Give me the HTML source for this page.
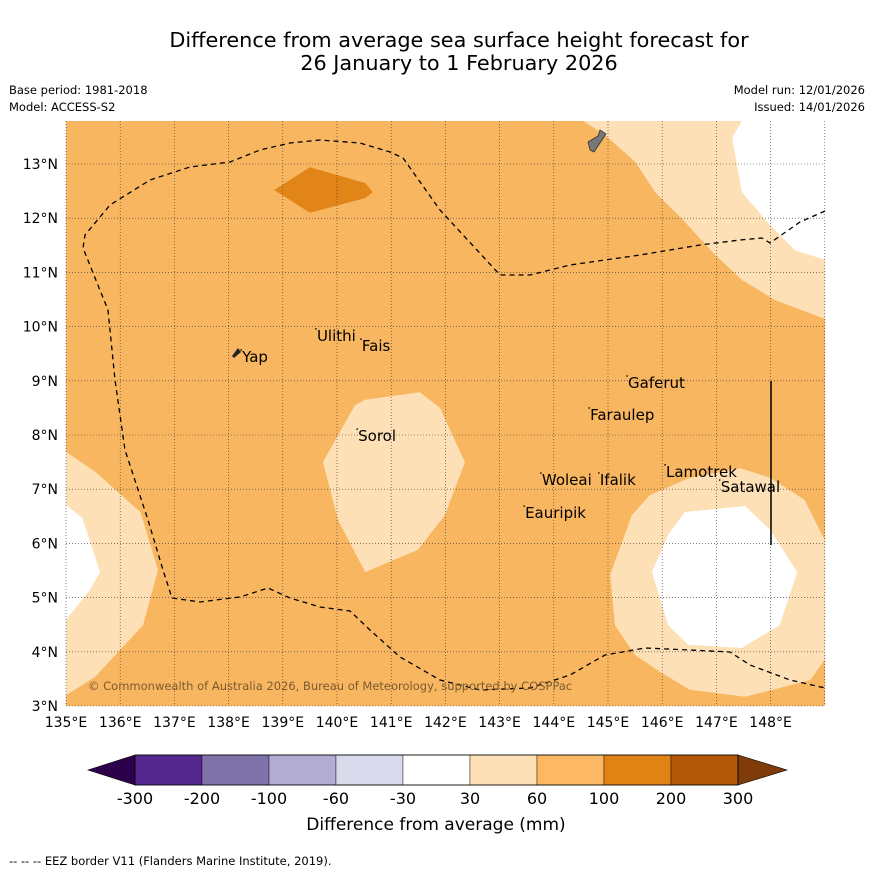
<!DOCTYPE html>
<html><head><meta charset="utf-8"><style>
body{margin:0;background:#fff;width:873px;height:873px;overflow:hidden;font-family:"Liberation Sans",sans-serif}
</style></head><body>
<svg width="873" height="873" xmlns="http://www.w3.org/2000/svg" font-family="DejaVu Sans, Liberation Sans, sans-serif">
<text x="459" y="47" text-anchor="middle" font-size="20.8">Difference from average sea surface height forecast for</text>
<text x="459" y="70" text-anchor="middle" font-size="20.8">26 January to 1 February 2026</text>
<text x="9" y="94" font-size="11.5">Base period: 1981-2018</text>
<text x="9" y="111" font-size="11.5">Model: ACCESS-S2</text>
<text x="865" y="94" font-size="11.5" text-anchor="end">Model run: 12/01/2026</text>
<text x="865" y="111" font-size="11.5" text-anchor="end">Issued: 14/01/2026</text>
<defs><clipPath id="mc"><rect x="66" y="121" width="759" height="585"/></clipPath></defs>
<g id="map" clip-path="url(#mc)">
<rect x="66" y="121" width="759" height="585" fill="#f9b660"/>
</g>
<g id="grid"></g>
<g id="eez">
<path d="M825,211 L800,222 L770,243 L762,238 L740,240 L700,245 L640,255 L570,265 L530,275 L500,275 L440,210 L403,158 L390,152 L360,143 L320,140 L290,143 L260,150 L230,162 L190,167 L150,180 L110,205 L85,235 L83,248 L108,310 L115,380 L125,450 L148,520 L163,570 L172,598 L200,602 L240,597 L268,588 L290,598 L320,607 L350,611 L370,630 L400,657 L440,680 L480,690 L530,688 L570,675 L605,655 L645,648 L690,650 L730,652 L750,665 L790,680 L825,688" fill="none" stroke="#000" stroke-width="1.3" stroke-dasharray="5,4"/>
</g>
<line x1="771" y1="381" x2="771" y2="545" stroke="#000" stroke-width="1.5"/>
<path d="M588,142 L598,136 L600,130 L606,134 L598,146 L594,152 L590,150 Z" fill="#777" stroke="#333" stroke-width="0.8"/>
<path d="M232,356 L238,348 L241,352 L234,358 Z" fill="#222"/>
<g id="labels" font-size="15"></g>
<text x="88" y="690" font-size="11.5" fill="#7a5a30">© Commonwealth of Australia 2026, Bureau of Meteorology, supported by COSPPac</text>
<g id="axes" font-size="14"></g>
<g id="cbar"></g>
<text x="436" y="830" text-anchor="middle" font-size="17">Difference from average (mm)</text>
<text x="9" y="865" font-size="11.5">-- -- -- EEZ border V11 (Flanders Marine Institute, 2019).</text>
</svg>
<script>
const NS="http://www.w3.org/2000/svg";
const lonMin=135,latMin=3,ppd=54.2,x0=66,y0=706;
const X=l=>x0+(l-lonMin)*ppd, Y=l=>y0-(l-latMin)*ppd;
function mk(tag,attrs,parent){const e=document.createElementNS(NS,tag);for(const k in attrs)e.setAttribute(k,attrs[k]);parent.appendChild(e);return e;}
const contourLevels=["30-60","30-60","-30-30","100-200","30-60","-30-30","30-60","-30-30"];
const contourColors=["#fde0b6","#fde0b6","#ffffff","#e28518","#fde0b6","#ffffff","#fde0b6","#ffffff"];
const contourShapes=[
[[144.54,13.79],[144.94,13.54],[145.5,13.04],[145.87,12.48],[146.38,11.97],[146.92,11.38],[147.47,10.86],[148.08,10.49],[149.2,10.07],[149.2,13.9]],
[[135,7.69],[135.54,7.32],[136.37,6.58],[136.7,5.51],[136.42,4.49],[135.54,3.54],[135,3.2]],
[[135,6.71],[135.3,6.47],[135.63,5.47],[135.44,5.14],[135,4.59]],
[[138.84,12.52],[139.5,12.94],[140.52,12.65],[140.66,12.48],[140.52,12.37],[139.5,12.1]],
[[139.74,7.5],[140.33,8.55],[140.52,8.65],[141.53,8.79],[141.9,8.5],[142.36,7.5],[141.99,6.52],[141.49,5.88],[140.52,5.47],[140.02,6.43]],
[[147.53,13.9],[147.29,13.48],[147.47,12.48],[147.99,11.87],[148.45,11.41],[149.2,11.17],[149.2,13.9]],
[[145.04,5.42],[145.44,6.52],[145.77,6.89],[146.51,7.21],[147.44,7.39],[147.99,7.21],[148.63,6.8],[149,6.06],[149,3.85],[148.73,3.48],[147.53,3.17],[146.51,3.3],[145.96,3.63],[145.5,3.94],[145.13,4.49]],
[[145.81,5.47],[146.11,6.16],[146.42,6.58],[147.53,6.69],[147.99,6.25],[148.49,5.47],[148.17,4.49],[147.47,4.07],[146.48,4.13],[146.11,4.49]]
];
const map=document.getElementById('map');
contourShapes.forEach((s,i)=>{
 const p=mk('polygon',{points:s.map(q=>X(q[0]).toFixed(1)+','+Y(q[1]).toFixed(1)).join(' '),fill:contourColors[i]},map);
 
 
});
const lonTicks=[135,136,137,138,139,140,141,142,143,144,145,146,147,148];
const latTicks=[3,4,5,6,7,8,9,10,11,12,13];
const grid=document.getElementById('grid'),axes=document.getElementById('axes');
lonTicks.forEach(l=>{
 const g=mk('line',{x1:X(l),x2:X(l),y1:121,y2:706,stroke:'#333','stroke-width':0.6,'stroke-dasharray':'1,2'},grid);
 
 
 const t=mk('text',{x:X(l),y:727,'text-anchor':'middle'},axes);t.textContent=l+'°E';
 
 
});
mk('line',{x1:X(149),x2:X(149),y1:121,y2:706,stroke:'#333','stroke-width':0.6,'stroke-dasharray':'1,2'},grid);
latTicks.forEach(l=>{
 const g=mk('line',{x1:66,x2:825,y1:Y(l),y2:Y(l),stroke:'#333','stroke-width':0.6,'stroke-dasharray':'1,2'},grid);
 
 
 const t=mk('text',{x:58,y:Y(l)+5,'text-anchor':'end'},axes);t.textContent=l+'°N';
 
 
});
const placeNames=["Ulithi","Fais","Yap","Gaferut","Faraulep","Sorol","Woleai","Ifalik","Lamotrek","Satawal","Eauripik"];
const placeLon=[139.63,140.46,138.25,145.37,144.67,140.39,143.78,144.85,146.07,147.08,143.47];
const placeLat=[9.83,9.64,9.44,8.96,8.37,7.98,7.17,7.17,7.32,7.04,6.56];
const lab=document.getElementById('labels');
placeNames.forEach((n,i)=>{
 const t=mk('text',{x:X(placeLon[i]),y:Y(placeLat[i])+5},lab);t.textContent=n;
 
 
 mk('circle',{cx:X(placeLon[i])-1,cy:Y(placeLat[i])-7,r:0.8,fill:'#000'},lab);
});
const cbLabels=["-300","-200","-100","-60","-30","30","60","100","200","300"];
const cbColors=["#54278f","#8073ac","#b2abd2","#d8daeb","#ffffff","#fee0b6","#fdb863","#e08214","#b35806"];
const cb=document.getElementById('cbar');
const cx0=135,cw=67,cy=755,ch=30;
mk('polygon',{points:`${cx0},${cy} ${cx0},${cy+ch} 88,${cy+ch/2}`,fill:'#2d004b',stroke:'#000','stroke-width':0.6},cb);
cbColors.forEach((c,i)=>{
 const r=mk('rect',{x:cx0+i*cw,y:cy,width:cw,height:ch,fill:c,stroke:'#000','stroke-width':0.4},cb);
 
 
});
const ce=cx0+cbColors.length*cw;
mk('polygon',{points:`${ce},${cy} ${ce},${cy+ch} 787,${cy+ch/2}`,fill:'#7f3b08',stroke:'#000','stroke-width':0.6},cb);
mk('rect',{x:cx0,y:cy,width:ce-cx0,height:ch,fill:'none',stroke:'#000','stroke-width':0.8},cb);
cbLabels.forEach((l,i)=>{
 const t=mk('text',{x:cx0+i*cw,y:804,'text-anchor':'middle','font-size':16},cb);t.textContent=l;
 
 
});
</script>
</body></html>
